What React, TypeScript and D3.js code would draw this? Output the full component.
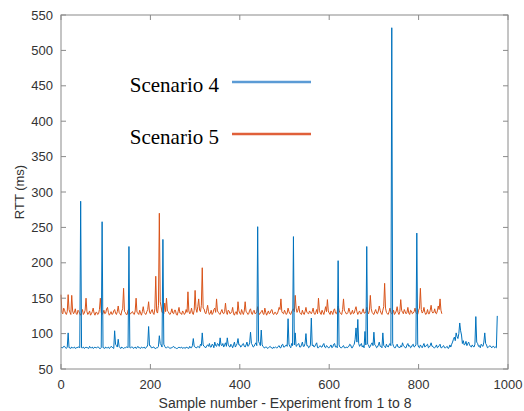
import * as d3 from 'd3'
import { useEffect, useRef } from 'react'

// Sample step of the arrays below (one value every 2 samples)
const step = 2

// Scenario 4 RTT (ms), samples 0..976
const scenario4 = [
	81, 80, 80, 82, 82, 80, 79, 81, 101, 80, 80, 79, 81, 80, 80, 81, 79, 80, 80, 81,
	81, 80, 287, 80, 80, 81, 79, 80, 81, 80, 80, 79, 82, 80, 80, 81, 79, 80, 81, 80,
	80, 81, 81, 79, 79, 80, 258, 80, 80, 79, 81, 80, 80, 81, 79, 80, 82, 81, 80, 79,
	104, 85, 83, 81, 92, 82, 80, 79, 81, 80, 79, 80, 80, 81, 81, 80, 223, 80, 80, 81,
	81, 79, 80, 81, 79, 80, 82, 80, 80, 79, 81, 80, 80, 81, 79, 80, 81, 84, 110, 83,
	83, 80, 80, 81, 81, 79, 79, 80, 80, 82, 97, 86, 84, 81, 233, 85, 82, 80, 80, 81,
	81, 80, 79, 80, 80, 81, 82, 80, 80, 79, 79, 80, 81, 80, 80, 81, 79, 80, 80, 79,
	81, 80, 80, 79, 82, 80, 80, 83, 93, 82, 81, 80, 80, 82, 81, 80, 85, 83, 101, 84,
	82, 81, 80, 83, 84, 82, 86, 81, 81, 85, 84, 80, 88, 83, 82, 86, 85, 82, 94, 84,
	83, 86, 81, 84, 87, 82, 94, 85, 82, 81, 85, 83, 80, 84, 88, 81, 83, 86, 93, 84,
	84, 81, 82, 85, 86, 82, 81, 84, 88, 82, 83, 87, 102, 86, 84, 81, 82, 85, 87, 83,
	251, 89, 86, 83, 105, 84, 82, 80, 80, 81, 81, 79, 80, 81, 82, 80, 80, 79, 81, 80,
	81, 80, 80, 82, 83, 80, 80, 84, 85, 81, 81, 83, 84, 82, 121, 85, 82, 80, 86, 83,
	237, 84, 101, 82, 83, 85, 86, 81, 81, 84, 88, 82, 82, 86, 100, 83, 83, 80, 81, 84,
	122, 83, 84, 81, 82, 85, 87, 80, 80, 82, 83, 81, 81, 84, 86, 81, 80, 83, 82, 80,
	80, 82, 84, 80, 81, 85, 86, 81, 82, 80, 203, 84, 81, 80, 80, 82, 83, 80, 80, 81,
	80, 81, 82, 85, 84, 80, 80, 83, 85, 92, 108, 88, 120, 86, 82, 84, 86, 81, 83, 80,
	103, 84, 223, 85, 84, 80, 82, 85, 87, 83, 102, 84, 83, 80, 81, 84, 88, 82, 82, 80,
	101, 83, 82, 80, 85, 82, 81, 84, 86, 83, 532, 86, 82, 80, 80, 83, 85, 81, 81, 80,
	83, 81, 87, 83, 82, 80, 80, 84, 86, 82, 83, 80, 81, 84, 85, 81, 82, 84, 242, 85,
	81, 80, 84, 82, 80, 83, 86, 81, 82, 84, 85, 80, 81, 83, 87, 82, 82, 80, 80, 81,
	84, 80, 81, 83, 85, 80, 80, 82, 83, 80, 80, 81, 82, 79, 80, 84, 81, 85, 88, 92,
	95, 90, 101, 96, 93, 100, 115, 104, 98, 86, 90, 84, 85, 89, 83, 86, 88, 84, 82, 81,
	84, 82, 81, 85, 124, 88, 86, 82, 83, 80, 85, 83, 82, 88, 101, 86, 84, 80, 81, 82,
	83, 81, 80, 82, 82, 80, 81, 80, 125,
]

// Scenario 5 RTT (ms), samples 0..852
const scenario5 = [
	155, 130, 128, 136, 133, 129, 127, 131, 155, 134, 130, 127, 154, 132, 128, 130, 135, 128, 127, 133,
	131, 128, 126, 130, 134, 127, 129, 133, 150, 131, 127, 129, 132, 126, 128, 131, 136, 129, 126, 130,
	130, 127, 128, 134, 150, 130, 127, 129, 133, 128, 129, 135, 137, 130, 126, 128, 131, 127, 128, 132,
	134, 129, 127, 131, 139, 130, 128, 126, 132, 135, 164, 131, 130, 127, 127, 133, 135, 128, 128, 130,
	131, 128, 127, 132, 150, 130, 129, 127, 133, 129, 126, 131, 138, 130, 128, 127, 131, 134, 145, 130,
	128, 132, 134, 129, 127, 135, 181, 131, 129, 140, 270, 145, 138, 130, 130, 128, 143, 131, 150, 132,
	131, 128, 127, 130, 135, 129, 128, 133, 133, 127, 126, 131, 137, 129, 129, 127, 132, 130, 127, 129,
	134, 130, 159, 132, 128, 130, 136, 129, 127, 133, 161, 135, 130, 138, 149, 133, 131, 140, 193, 136,
	135, 130, 128, 133, 140, 131, 127, 129, 133, 127, 129, 134, 136, 130, 149, 132, 130, 128, 127, 131,
	134, 129, 128, 131, 143, 130, 127, 133, 132, 128, 129, 131, 137, 128, 126, 130, 131, 127, 145, 132,
	129, 127, 134, 130, 127, 132, 145, 131, 130, 127, 128, 133, 135, 129, 127, 131, 133, 128, 129, 130,
	138, 130, 127, 129, 131, 133, 128, 127, 136, 130, 126, 129, 132, 128, 129, 133, 134, 128, 127, 130,
	130, 127, 128, 132, 137, 134, 149, 131, 129, 128, 133, 130, 127, 129, 136, 131, 128, 127, 131, 133,
	135, 131, 154, 136, 130, 133, 139, 130, 128, 127, 133, 129, 127, 131, 137, 130, 129, 128, 132, 130,
	128, 131, 136, 129, 127, 130, 134, 128, 150, 133, 129, 127, 133, 130, 127, 132, 138, 131, 148, 132,
	129, 127, 132, 130, 127, 133, 135, 129, 128, 131, 139, 133, 130, 128, 127, 134, 149, 132, 131, 128,
	128, 130, 136, 131, 127, 129, 133, 128, 129, 134, 138, 131, 127, 130, 132, 128, 128, 131, 135, 129,
	129, 131, 137, 130, 128, 133, 154, 135, 130, 128, 127, 131, 134, 129, 128, 132, 139, 133, 129, 127,
	133, 138, 171, 136, 130, 128, 127, 131, 136, 130, 128, 129, 133, 127, 129, 132, 138, 130, 127, 131,
	148, 133, 130, 128, 134, 131, 128, 130, 137, 129, 127, 133, 132, 128, 129, 131, 136, 130, 128, 127,
	133, 136, 164, 134, 129, 131, 137, 130, 127, 129, 134, 128, 128, 133, 140, 131, 129, 130, 135, 129,
	128, 132, 139, 134, 149, 133, 128,
]

const xTicks = [0, 200, 400, 600, 800, 1000]
const yTicks = [50, 100, 150, 200, 250, 300, 350, 400, 450, 500, 550]

const legend = [
	{ label: 'Scenario 4', color: '#5b9bd5' },
	{ label: 'Scenario 5', color: '#e0603a' },
]

const App = () => {
	const svgRef = useRef()

	const width = 524
	const height = 411
	const marginTop = 15
	const marginRight = 16
	const marginBottom = 42
	const marginLeft = 61

	useEffect(() => {
		document.body.style.margin = '0'
		d3.select(svgRef.current).selectAll('*').remove()
		const svg = d3.select(svgRef.current).attr('width', width).attr('height', height)

		const x = d3.scaleLinear().domain([0, 1000]).range([marginLeft, width - marginRight])
		const y = d3.scaleLinear().domain([50, 550]).range([height - marginBottom, marginTop])

		const line = d3
			.line()
			.x((d, i) => x(i * step))
			.y((d) => y(d))

		svg.append('rect')
			.attr('x', 0).attr('y', 0).attr('width', width).attr('height', height)
			.attr('fill', '#fff')

		// series
		svg.append('path')
			.attr('d', line(scenario5))
			.attr('fill', 'none')
			.attr('stroke', '#d95319')
			.attr('stroke-width', 1)
		svg.append('path')
			.attr('d', line(scenario4))
			.attr('fill', 'none')
			.attr('stroke', '#0072bd')
			.attr('stroke-width', 1)

		// box + ticks
		const axisColor = '#8a8a8a'
		const x0 = x(0), x1 = x(1000), y0 = y(50), y1 = y(550)
		svg.append('rect')
			.attr('x', x0).attr('y', y1).attr('width', x1 - x0).attr('height', y0 - y1)
			.attr('fill', 'none').attr('stroke', axisColor).attr('stroke-width', 1)

		const tl = 5
		xTicks.forEach((t) => {
			svg.append('line').attr('x1', x(t)).attr('x2', x(t)).attr('y1', y0).attr('y2', y0 - tl).attr('stroke', axisColor)
			svg.append('line').attr('x1', x(t)).attr('x2', x(t)).attr('y1', y1).attr('y2', y1 + tl).attr('stroke', axisColor)
			svg.append('text')
				.attr('x', x(t)).attr('y', y0 + 20)
				.attr('text-anchor', 'middle')
				.attr('font-family', 'Liberation Sans, Arial, sans-serif')
				.attr('font-size', 13)
				.attr('fill', '#333')
				.text(t)
		})
		yTicks.forEach((t) => {
			svg.append('line').attr('x1', x0).attr('x2', x0 + tl).attr('y1', y(t)).attr('y2', y(t)).attr('stroke', axisColor)
			svg.append('line').attr('x1', x1).attr('x2', x1 - tl).attr('y1', y(t)).attr('y2', y(t)).attr('stroke', axisColor)
			svg.append('text')
				.attr('x', x0 - 8).attr('y', y(t) + 4.5)
				.attr('text-anchor', 'end')
				.attr('font-family', 'Liberation Sans, Arial, sans-serif')
				.attr('font-size', 13)
				.attr('fill', '#333')
				.text(t)
		})

		// axis labels
		svg.append('text')
			.attr('x', 285).attr('y', 408)
			.attr('text-anchor', 'middle')
			.attr('font-family', 'Liberation Sans, Arial, sans-serif')
			.attr('font-size', 14)
			.attr('fill', '#333')
			.text('Sample number - Experiment from 1 to 8')
		svg.append('text')
			.attr('transform', 'translate(24,192) rotate(-90)')
			.attr('text-anchor', 'middle')
			.attr('font-family', 'Liberation Sans, Arial, sans-serif')
			.attr('font-size', 13)
			.attr('fill', '#333')
			.text('RTT (ms)')

		// legend
		legend.forEach((d, i) => {
			const ly = 82 + i * 52
			svg.append('text')
				.attr('x', 219).attr('y', ly + 10)
				.attr('text-anchor', 'end')
				.attr('font-family', 'Liberation Serif, Times New Roman, serif')
				.attr('font-size', 21)
				.attr('fill', '#000')
				.text(d.label)
			svg.append('line')
				.attr('x1', 232).attr('x2', 311).attr('y1', ly).attr('y2', ly)
				.attr('stroke', d.color).attr('stroke-width', 2.5)
		})
	}, [])

	return (
		<>
			<svg ref={svgRef}></svg>
		</>
	)
}

export default App
